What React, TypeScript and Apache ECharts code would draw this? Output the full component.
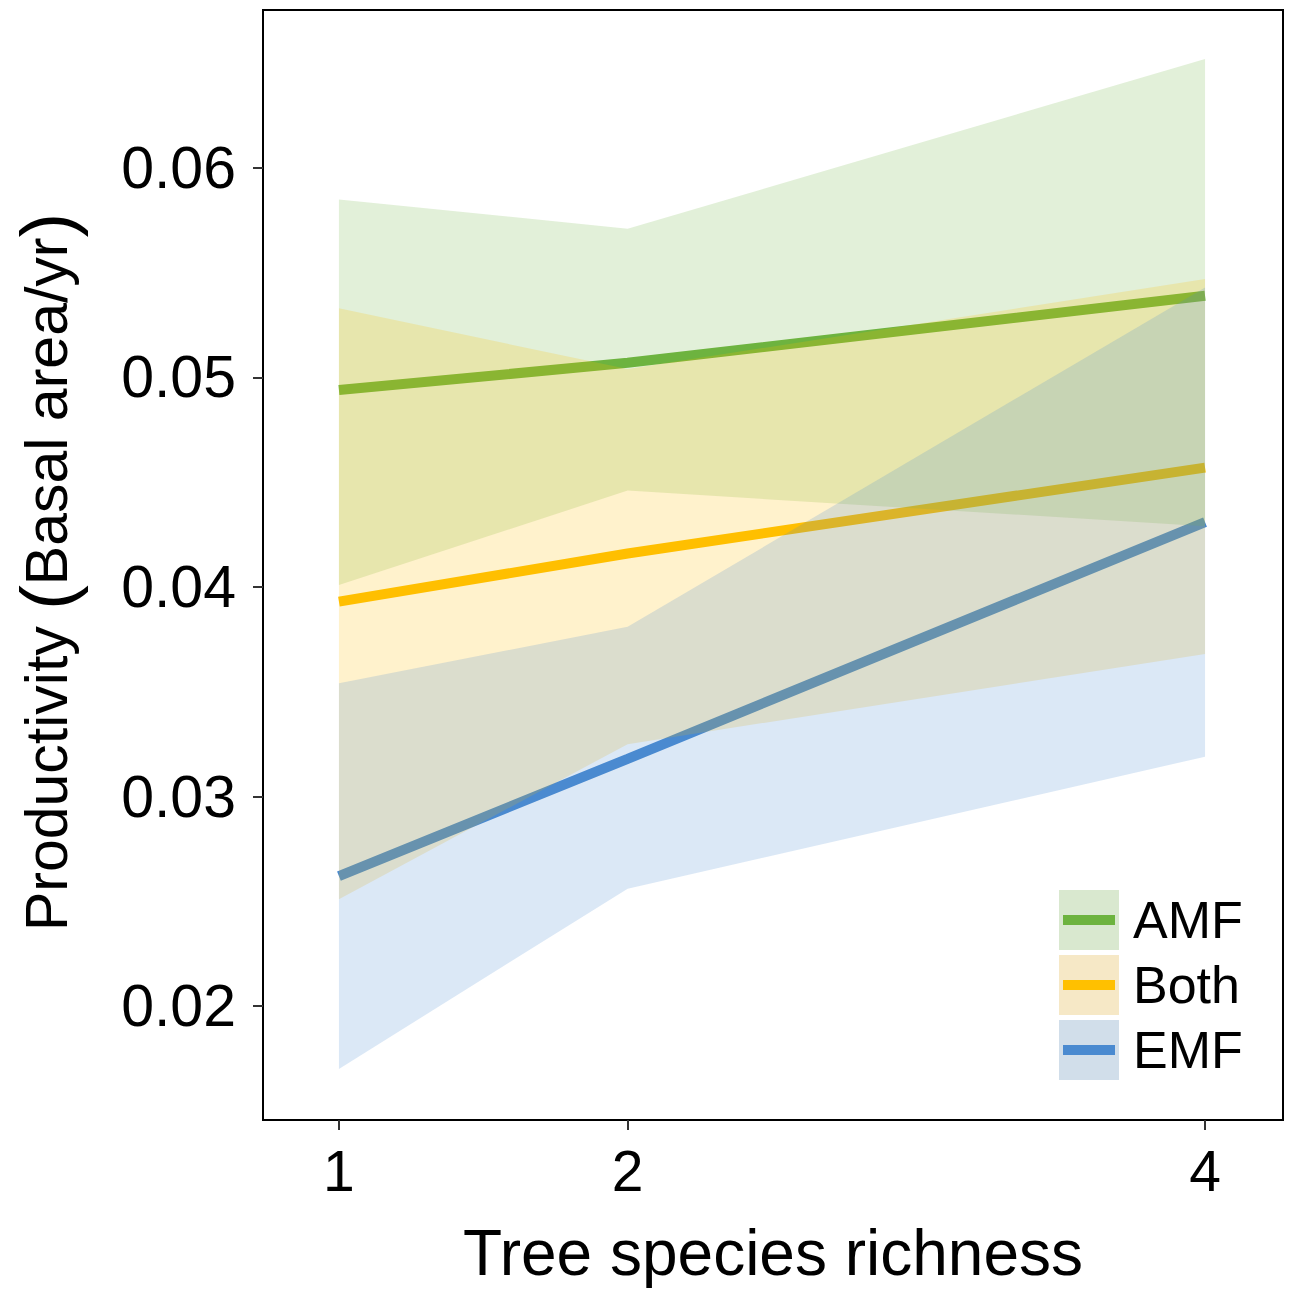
import React, { useEffect, useRef } from "react";
import * as echarts from "echarts";

const groups = ["AMF", "Both", "EMF"];
const lineColors = ["#6db33f", "#ffc000", "#4a8ad0"];
const keyColors = ["#d9e8cf", "#f6e8c6", "#d1deea"];
const xValues = [1, 2, 4];
const xTicks = [1, 2, 4];
const yTicks = [0.02, 0.03, 0.04, 0.05, 0.06];

const amfFit = [0.0494, 0.0507, 0.0539];
const amfLower = [0.0401, 0.0446, 0.0429];
const amfUpper = [0.0585, 0.0571, 0.0652];
const bothFit = [0.0393, 0.0416, 0.0457];
const bothLower = [0.0251, 0.0325, 0.0368];
const bothUpper = [0.0533, 0.0504, 0.0547];
const emfFit = [0.0262, 0.0318, 0.0431];
const emfLower = [0.017, 0.0256, 0.0319];
const emfUpper = [0.0354, 0.0381, 0.0543];

const fits = [amfFit, bothFit, emfFit];
const lowers = [amfLower, bothLower, emfLower];
const uppers = [amfUpper, bothUpper, emfUpper];

const FONT = "'Liberation Sans', Arial, sans-serif";

export default function App() {
  const ref = useRef<HTMLDivElement>(null);
  useEffect(() => {
    if (!ref.current) return;
    const chart = echarts.init(ref.current, null, { renderer: "svg" });

    const lineSeries = groups.map((g, gi) => ({
      type: "line",
      name: g,
      data: xValues.map((x, i) => [x, fits[gi][i]]),
      symbol: "none",
      lineStyle: { color: lineColors[gi], width: 10, cap: "butt" },
      itemStyle: { color: lineColors[gi] },
      z: 2,
      silent: true,
    }));

    const ribbonSeries = groups.map((g, gi) => ({
      type: "custom",
      name: g + " CI",
      data: xValues.map((x, i) => [x, lowers[gi][i], uppers[gi][i]]),
      z: 3,
      silent: true,
      renderItem: (params: any, api: any) => {
        if (params.dataIndex !== 0) return null;
        const up = xValues.map((x, i) => api.coord([x, uppers[gi][i]]));
        const lo = xValues
          .map((x, i) => api.coord([x, lowers[gi][i]]))
          .reverse();
        return {
          type: "polygon",
          shape: { points: up.concat(lo) },
          style: { fill: lineColors[gi], opacity: 0.2 },
        };
      },
    }));

    const legendGraphics: any[] = [];
    groups.forEach((g, gi) => {
      const top = 890 + gi * 65;
      legendGraphics.push({
        type: "rect",
        shape: { x: 1059, y: top, width: 60, height: 60 },
        style: { fill: keyColors[gi] },
      });
      legendGraphics.push({
        type: "rect",
        shape: { x: 1063, y: top + 25, width: 52, height: 10 },
        style: { fill: lineColors[gi] },
      });
      legendGraphics.push({
        type: "text",
        x: 1133,
        y: top + 30,
        style: {
          text: g,
          fontSize: 52,
          fontFamily: FONT,
          fill: "#000",
          textAlign: "left",
          textVerticalAlign: "middle",
        },
      });
    });

    chart.setOption({
      animation: false,
      backgroundColor: "#fff",
      grid: {
        left: 263,
        top: 10,
        right: 7,
        bottom: 172,
        show: true,
        borderColor: "#000",
        borderWidth: 2,
      },
      xAxis: {
        type: "value",
        min: 0.737,
        max: 4.27,
        splitLine: { show: false },
        axisLine: { show: true, lineStyle: { color: "#000", width: 2 } },
        axisTick: {
          show: true,
          length: 10,
          lineStyle: { color: "#333", width: 2 },
          customValues: xTicks,
        },
        axisLabel: {
          customValues: xTicks,
          fontSize: 57,
          fontFamily: FONT,
          color: "#000",
          margin: 22,
          formatter: (v: number) => String(v),
        },
      },
      yAxis: {
        type: "value",
        min: 0.01456,
        max: 0.06754,
        splitLine: { show: false },
        axisLine: { show: true, lineStyle: { color: "#000", width: 2 } },
        axisTick: {
          show: true,
          length: 10,
          lineStyle: { color: "#333", width: 2 },
          customValues: yTicks,
        },
        axisLabel: {
          customValues: yTicks,
          fontSize: 59,
          fontFamily: FONT,
          color: "#000",
          margin: 27,
          formatter: (v: number) => v.toFixed(2),
        },
      },
      graphic: [
        {
          type: "text",
          x: 773,
          y: 1253,
          style: {
            text: "Tree species richness",
            fontSize: 64,
            fontFamily: FONT,
            fill: "#000",
            textAlign: "center",
            textVerticalAlign: "middle",
          },
        },
        {
          type: "text",
          x: 47,
          y: 572,
          rotation: Math.PI / 2,
          style: {
            text: "Productivity {p|(}Basal area/yr{p|)}",
            fontSize: 59,
            fontFamily: FONT,
            fill: "#000",
            textAlign: "center",
            textVerticalAlign: "middle",
            rich: {
              p: { fontSize: 74, fontFamily: FONT, fill: "#000" },
            },
          },
        },
        ...legendGraphics,
      ],
      series: [...lineSeries, ...ribbonSeries],
    });

    return () => chart.dispose();
  }, []);

  return (
    <div
      ref={ref}
      style={{ position: "fixed", left: 0, top: 0, width: 1290, height: 1292 }}
    />
  );
}
